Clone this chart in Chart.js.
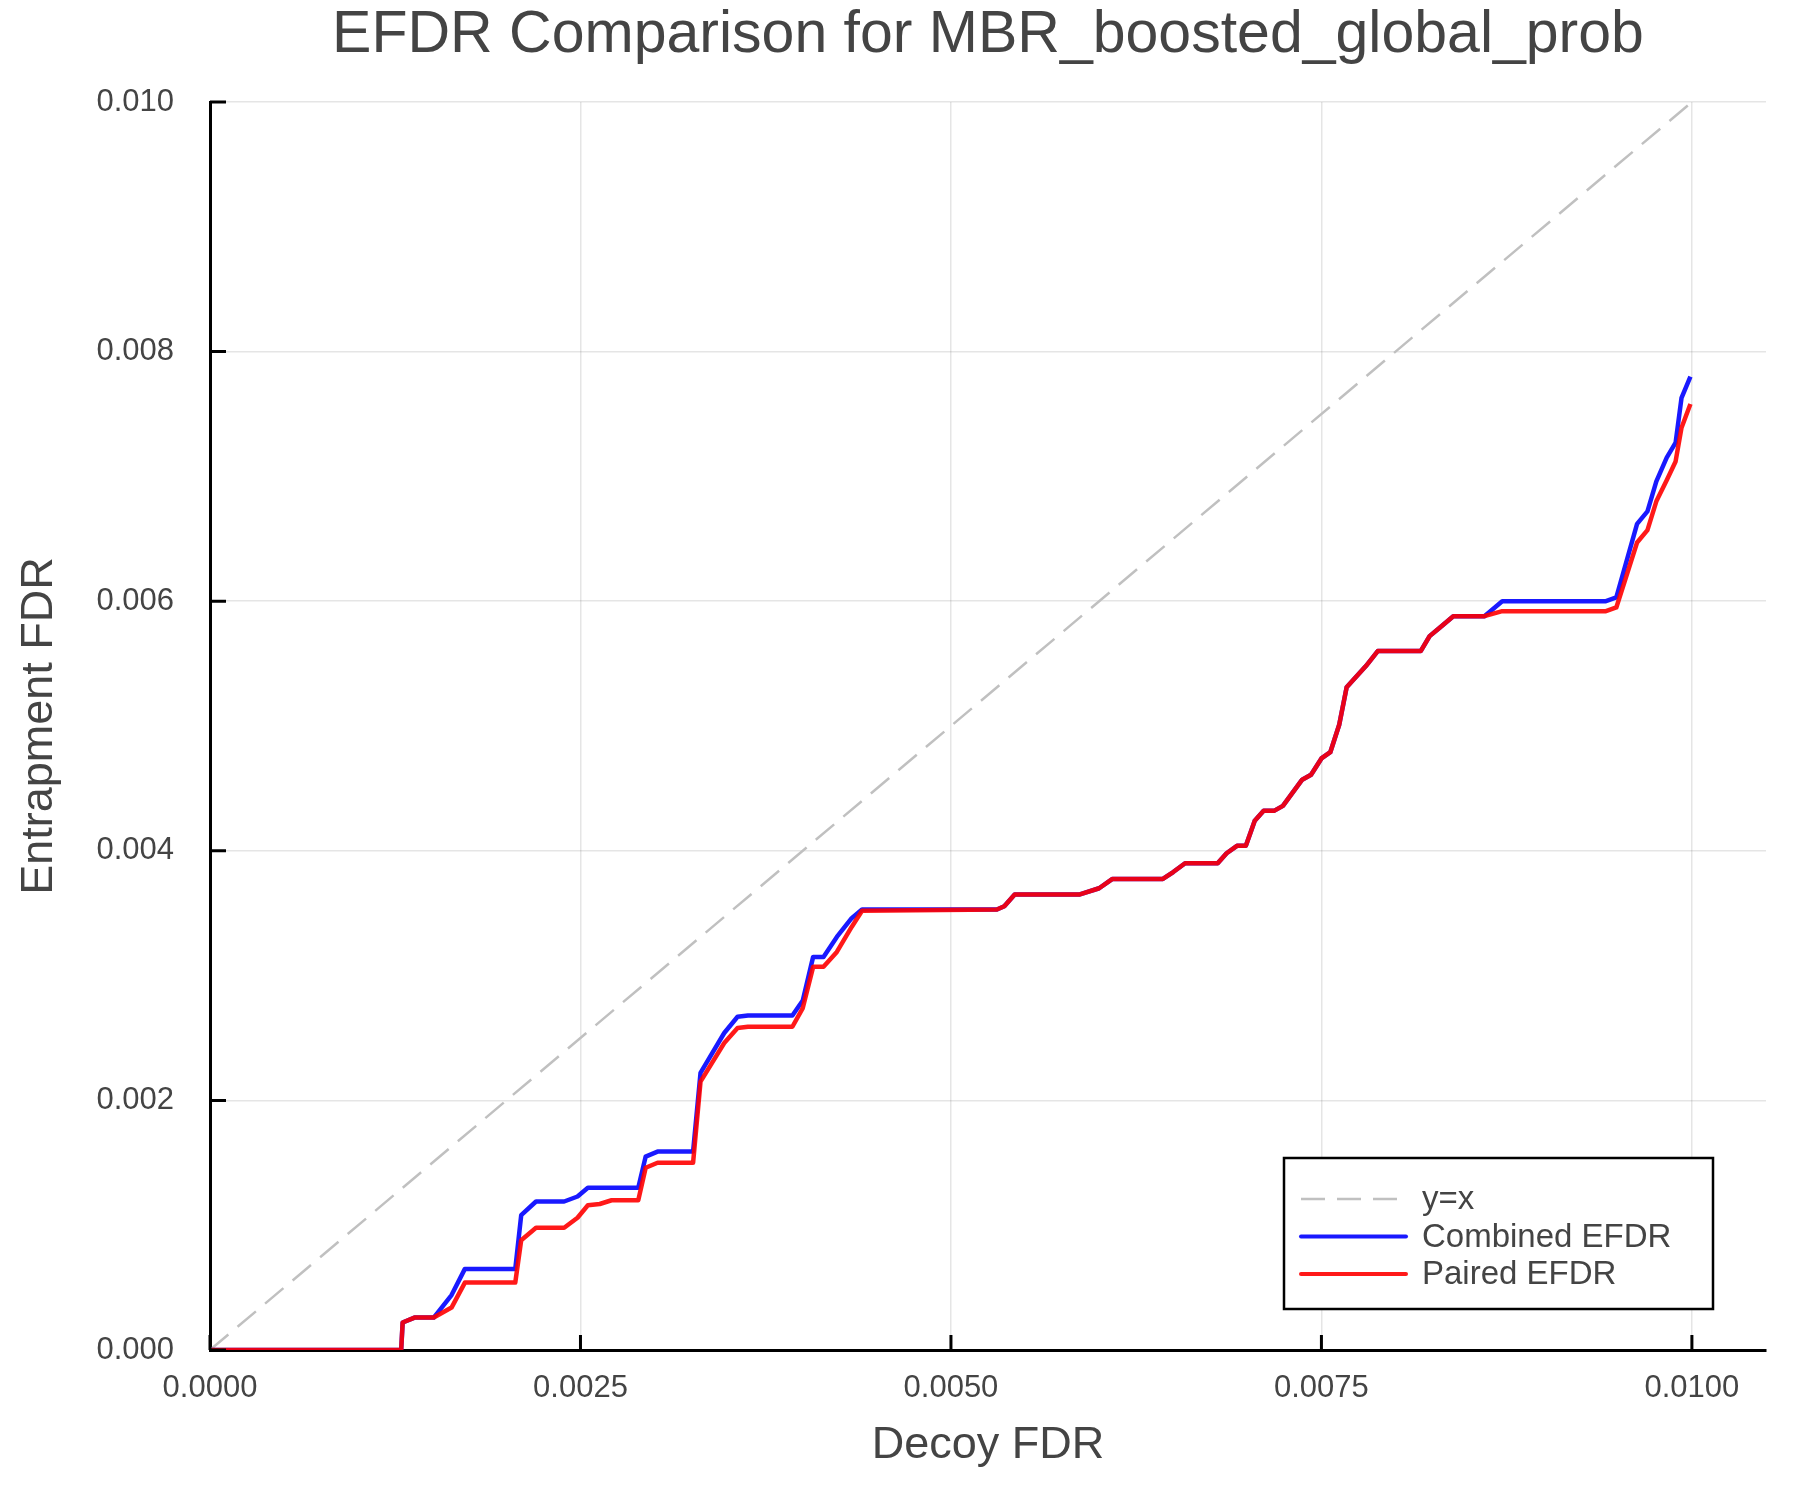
<!DOCTYPE html>
<html>
<head>
<meta charset="utf-8">
<title>EFDR Comparison</title>
<script src="https://cdn.jsdelivr.net/npm/chart.js@4.4.1/dist/chart.umd.min.js"></script>
<style>
  html, body { margin: 0; padding: 0; background: #fff; }
  #wrap { width: 1800px; height: 1500px; }
</style>
</head>
<body>
<div id="wrap"><canvas id="chart" width="1800" height="1500"></canvas></div>
<script>
// Decoy FDR (x) shared by both EFDR curves
const decoyFdr = [
    0.00000, 0.00129, 0.00130, 0.00138, 0.00151, 0.00163, 0.00172, 0.00206, 0.00210, 0.00220,
    0.00239, 0.00248, 0.00255, 0.00263, 0.00271, 0.00289, 0.00294, 0.00302, 0.00326, 0.00331,
    0.00347, 0.00356, 0.00363, 0.00393, 0.00400, 0.00407, 0.00414, 0.00423, 0.00433, 0.00440,
    0.00531, 0.00536, 0.00543, 0.00587, 0.00600, 0.00609, 0.00643, 0.00650, 0.00658, 0.00680,
    0.00686, 0.00693, 0.00699, 0.00705, 0.00711, 0.00718, 0.00724, 0.00737, 0.00743, 0.00750,
    0.00756, 0.00762, 0.00767, 0.00780, 0.00788, 0.00817, 0.00823, 0.00830, 0.00839, 0.00860,
    0.00872, 0.00942, 0.00949, 0.00963, 0.00970, 0.00976, 0.00983, 0.00989, 0.00993, 0.00999
];

const combinedEfdr = [
    0.00000, 0.00000, 0.00022, 0.00026, 0.00026, 0.00044, 0.00065, 0.00065, 0.00108, 0.00119,
    0.00119, 0.00123, 0.00130, 0.00130, 0.00130, 0.00130, 0.00155, 0.00159, 0.00159, 0.00222,
    0.00254, 0.00267, 0.00268, 0.00268, 0.00280, 0.00315, 0.00315, 0.00331, 0.00346, 0.00353,
    0.00353, 0.003556, 0.00365, 0.00365, 0.00370, 0.003775, 0.003775, 0.00383, 0.00390, 0.00390,
    0.00398, 0.00404, 0.00404, 0.00424, 0.00432, 0.00432, 0.00436, 0.00457, 0.00461, 0.00474,
    0.00479, 0.00501, 0.00531, 0.00548, 0.00560, 0.00560, 0.00572, 0.00579, 0.00588, 0.00588,
    0.00600, 0.00600, 0.00603, 0.00662, 0.00672, 0.00696, 0.00715, 0.00727, 0.00763, 0.00780
];

const pairedEfdr = [
    0.00000, 0.00000, 0.00022, 0.00026, 0.00026, 0.00034, 0.00054, 0.00054, 0.00088, 0.00098,
    0.00098, 0.00106, 0.00116, 0.00117, 0.00120, 0.00120, 0.00146, 0.00150, 0.00150, 0.00215,
    0.00246, 0.00258, 0.00259, 0.00259, 0.00274, 0.00307, 0.00307, 0.00319, 0.00339, 0.00352,
    0.00353, 0.003556, 0.00365, 0.00365, 0.00370, 0.003775, 0.003775, 0.00383, 0.00390, 0.00390,
    0.00398, 0.00404, 0.00404, 0.00424, 0.00432, 0.00432, 0.00436, 0.00457, 0.00461, 0.00474,
    0.00479, 0.00501, 0.00531, 0.00548, 0.00560, 0.00560, 0.00572, 0.00579, 0.00588, 0.00588,
    0.00592, 0.00592, 0.00595, 0.00647, 0.00657, 0.00680, 0.00697, 0.00712, 0.00739, 0.00758
];

// y = x reference line
const diagX = [0, 0.01];
const diagY = [0, 0.01];

const xTicks = [0, 0.0025, 0.005, 0.0075, 0.01];
const yTicks = [0, 0.002, 0.004, 0.006, 0.008, 0.01];

const chartTitle = 'EFDR Comparison for MBR_boosted_global_prob';
const textColor = '#444444';
const fontFamily = '"Liberation Sans", Arial, Helvetica, sans-serif';

function toPoints(xs, ys) {
    return xs.map((x, i) => ({ x: x, y: ys[i] }));
}

// Title centred over the plot area (not the whole canvas)
const plotTitle = {
    id: 'plotTitle',
    afterDraw(chart) {
        const { ctx, chartArea } = chart;
        ctx.save();
        ctx.font = '59px ' + fontFamily;
        ctx.fillStyle = textColor;
        ctx.textAlign = 'center';
        ctx.textBaseline = 'middle';
        ctx.fillText(chartTitle, (chartArea.left + chartArea.right) / 2, 36);
        ctx.restore();
    }
};

// Inward tick marks
const innerTicks = {
    id: 'innerTicks',
    afterDatasetsDraw(chart) {
        const { ctx, chartArea, scales } = chart;
        ctx.save();
        ctx.strokeStyle = '#000';
        ctx.lineWidth = 3;
        ctx.beginPath();
        xTicks.forEach(v => {
            const px = scales.x.getPixelForValue(v);
            ctx.moveTo(px, chartArea.bottom);
            ctx.lineTo(px, chartArea.bottom - 15);
        });
        yTicks.forEach(v => {
            const py = scales.y.getPixelForValue(v);
            ctx.moveTo(chartArea.left, py);
            ctx.lineTo(chartArea.left + 16, py);
        });
        ctx.stroke();
        ctx.restore();
    }
};

// Legend box in lower right corner of the plot area
const boxLegend = {
    id: 'boxLegend',
    afterDraw(chart) {
        const { ctx, chartArea } = chart;
        const w = 429, h = 151;
        const left = chartArea.right - 53 - w;
        const top = chartArea.bottom - 41 - h;
        ctx.save();
        ctx.fillStyle = '#fff';
        ctx.fillRect(left, top, w, h);
        ctx.strokeStyle = '#000';
        ctx.lineWidth = 2.5;
        ctx.strokeRect(left, top, w, h);

        ctx.font = '33px ' + fontFamily;
        ctx.textBaseline = 'middle';
        ctx.textAlign = 'left';
        chart.data.datasets.forEach((ds, i) => {
            const y = top + 41 + i * 37.5;
            ctx.beginPath();
            ctx.strokeStyle = ds.borderColor;
            ctx.lineWidth = ds.borderDash ? ds.borderWidth : 4;
            ctx.lineCap = ds.borderDash ? 'butt' : 'round';
            ctx.setLineDash(ds.borderDash || []);
            ctx.moveTo(left + 17, y);
            ctx.lineTo(left + 122, y);
            ctx.stroke();
            ctx.setLineDash([]);
            ctx.fillStyle = textColor;
            ctx.fillText(ds.label, left + 138, y + 1);
        });
        ctx.restore();
    }
};

new Chart(document.getElementById('chart'), {
    type: 'line',
    data: {
        datasets: [
            {
                label: 'y=x',
                data: toPoints(diagX, diagY),
                borderColor: '#c0c0c0',
                borderWidth: 2.5,
                borderDash: [24, 12],
                pointRadius: 0,
                order: 3
            },
            {
                label: 'Combined EFDR',
                data: toPoints(decoyFdr, combinedEfdr),
                borderColor: 'rgba(0, 0, 255, 0.9)',
                borderWidth: 4.5,
                borderJoinStyle: 'round',
                pointRadius: 0,
                order: 2
            },
            {
                label: 'Paired EFDR',
                data: toPoints(decoyFdr, pairedEfdr),
                borderColor: 'rgba(255, 0, 0, 0.9)',
                borderWidth: 4.5,
                borderJoinStyle: 'round',
                pointRadius: 0,
                order: 1
            }
        ]
    },
    options: {
        responsive: false,
        animation: false,
        devicePixelRatio: 1,
        layout: { padding: { left: 0, right: 34, top: 102, bottom: 0 } },
        plugins: {
            legend: { display: false },
            tooltip: { enabled: false },
            title: { display: false }
        },
        scales: {
            x: {
                type: 'linear',
                min: 0,
                max: 0.0105,
                afterFit: scale => { scale.height = 150; },
                afterBuildTicks: scale => { scale.ticks = xTicks.map(v => ({ value: v })); },
                ticks: {
                    includeBounds: false,
                    padding: 20,
                    color: textColor,
                    font: { family: fontFamily, size: 31 },
                    maxRotation: 0,
                    callback: v => v.toFixed(4)
                },
                grid: { color: 'rgba(0,0,0,0.1)', lineWidth: 1.5, drawTicks: false },
                border: { color: '#000', width: 3 },
                title: {
                    display: true,
                    text: 'Decoy FDR',
                    color: textColor,
                    font: { family: fontFamily, size: 45 },
                    padding: { top: 27, bottom: 27 }
                }
            },
            y: {
                type: 'linear',
                min: 0,
                max: 0.01,
                afterFit: scale => { scale.width = 210; },
                afterBuildTicks: scale => { scale.ticks = yTicks.map(v => ({ value: v })); },
                ticks: {
                    includeBounds: false,
                    padding: 36,
                    color: textColor,
                    font: { family: fontFamily, size: 31 },
                    callback: v => v.toFixed(3)
                },
                grid: { color: 'rgba(0,0,0,0.1)', lineWidth: 1.5, drawTicks: false },
                border: { color: '#000', width: 3 },
                title: {
                    display: true,
                    text: 'Entrapment FDR',
                    color: textColor,
                    font: { family: fontFamily, size: 45 },
                    padding: { top: 13, bottom: 13 }
                }
            }
        }
    },
    plugins: [innerTicks, boxLegend, plotTitle]
});
</script>
</body>
</html>
